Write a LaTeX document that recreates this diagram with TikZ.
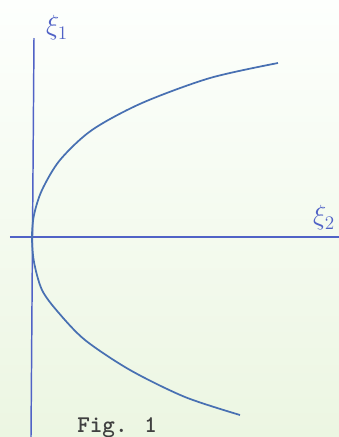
\documentclass[tikz,border=0pt]{standalone}
\usepackage{amsmath,amssymb}
\usepackage{xcolor}
\usetikzlibrary{positioning}

\definecolor{axisblue}{RGB}{80,98,198}
\definecolor{curveblue}{RGB}{72,112,178}
\definecolor{paperA}{RGB}{253,255,253}
\definecolor{paperB}{RGB}{236,246,226}

\begin{document}
\begin{tikzpicture}[
    x=0.75pt, y=-0.75pt,
    axis/.style={draw=axisblue, line width=1.1pt},
    curve/.style={draw=curveblue, line width=1.3pt},
    lab/.style={text=axisblue, font=\fontsize{20}{20}\selectfont, inner sep=0pt},
    caption/.style={font=\fontsize{18}{18}\selectfont\ttfamily\bfseries, text=black!75, inner sep=0pt}
]
\shade[top color=paperA, bottom color=paperB] (0,0) rectangle (339,437);
\useasboundingbox (0,0) rectangle (339,437);

% axes
\coordinate (ytop) at (34,38);
\coordinate (ybot) at (31,437);
\coordinate (xleft) at (10,237);
\coordinate (xright) at (339,237);
\draw[axis] (ybot) -- (ytop);
\draw[axis] (xleft) -- (xright);

\node[lab] (xi1) at (57,28) {$\xi_1$};
\node[lab] (xi2) at (324,218) {$\xi_2$};

% the curve
\draw[curve] plot[smooth] coordinates {(278,63) (210,78) (142,103) (92,130) (60,160)
  (42,190) (34,215) (32,237) (34,262) (42,290) (58,312) (85,340) (130,370) (185,397)
  (240,415)};

\node[caption, anchor=base west] (fig) at (77,432) {Fig. 1};
\end{tikzpicture}
\end{document}
